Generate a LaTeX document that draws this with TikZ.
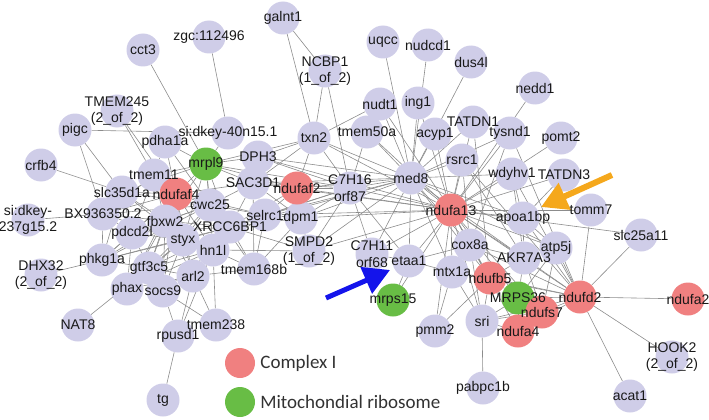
\documentclass[tikz,border=0pt]{standalone}
\usepackage{fontspec}
\setmainfont{Liberation Sans}
\newfontfamily\legendfont{Carlito}
\usetikzlibrary{arrows.meta,backgrounds,positioning}
\pgfdeclarelayer{fg}
\pgfsetlayers{background,main,fg}

\definecolor{lavfill}{RGB}{207,205,232}
\definecolor{cifill}{RGB}{240,128,128}
\definecolor{mrfill}{RGB}{104,189,69}
\definecolor{edgegray}{RGB}{140,140,140}
\definecolor{labeltext}{RGB}{25,25,25}
\definecolor{legendtext}{RGB}{50,50,50}
\definecolor{bluearrow}{RGB}{20,20,235}
\definecolor{orangearrow}{RGB}{245,168,28}

% circle first, its label on the top layer
\newcommand{\gnode}[5][gene_node]{%
  \node[#1] (#2) at (#3,#4) {};
  \begin{pgfonlayer}{fg}\node[gene_label] at (#2) {#5};\end{pgfonlayer}}

\begin{document}
\begin{tikzpicture}[x=1pt,y=-1pt,
    gene_node/.style ={circle, fill=lavfill, minimum size=33pt, inner sep=0pt},
    complex_node/.style ={gene_node, fill=cifill},
    ribo_node/.style ={gene_node, fill=mrfill},
    gene_label/.style ={font=\fontsize{14}{16.5}\selectfont, text=labeltext,
      align=center, inner sep=0pt},
    edge_line/.style ={draw=edgegray, line width=0.6pt},
    legend_dot/.style ={circle, minimum size=30pt, inner sep=0pt},
    legend_text/.style ={font=\legendfont\fontsize{19}{22}\selectfont,
      text=legendtext, inner sep=0pt},
    pointer/.style ={line width=5pt, -{Triangle[length=26pt,width=28pt]}}]
    \useasboundingbox (0,0) rectangle (709,420);

    % left cluster
    \gnode{cct3}{143}{50}{cct3}
    \gnode{zgc}{209}{37}{zgc:112496}
    \gnode{tmemA}{117}{111}{TMEM245\\(2\_of\_2)}
    \gnode{pigc}{75}{130}{pigc}
    \gnode{pdha1a}{165}{142}{pdha1a}
    \gnode{sidkeyA}{228}{133}{si:dkey-40n15.1}
    \gnode{crfb4}{41}{165}{crfb4}
    \gnode[ribo_node]{mrpl9}{206}{164}{mrpl9}
    \gnode{tmem11}{154}{175}{tmem11}
    \gnode{slc35d1a}{122}{192}{slc35d1a}
    \gnode[complex_node]{ndufaf4}{176}{194}{ndufaf4}
    \gnode{cwc25}{210}{205}{cwc25}
    \gnode{bx}{103}{214}{BX936350.2}
    \gnode{sidkeyB}{28}{220}{si:dkey-\\237g15.2}
    \gnode{fbxw2}{165}{221}{fbxw2}
    \gnode{xrcc}{230}{227}{XRCC6BP1}
    \gnode{pdcd2l}{132}{233}{pdcd2l}
    \gnode{styx}{183}{240}{styx}
    \gnode{hn1l}{213}{250}{hn1l}
    \gnode{phkg1a}{102}{260}{phkg1a}
    \gnode{dhx}{41}{275}{DHX32\\(2\_of\_2)}
    \gnode{gtf3c5}{149}{268}{gtf3c5}
    \gnode{arl2}{193}{276}{arl2}
    \gnode{phax}{127}{289}{phax}
    \gnode{socs9}{163}{291}{socs9}
    \gnode{nat8}{78}{325}{NAT8}
    \gnode{rpusd1}{178}{336}{rpusd1}
    \gnode{tmem238}{216}{325}{tmem238}
    \gnode{tg}{163}{400}{tg}
    \gnode{tmem168b}{254}{269}{tmem168b}
    \gnode{dph3}{258}{157}{DPH3}
    \gnode{sac3d1}{253}{183}{SAC3D1}
    \gnode{selrc1}{265}{215}{selrc1}
    \gnode{dpm1}{301}{218}{dpm1}
    \gnode{smpd2}{309}{251}{SMPD2\\(1\_of\_2)}
    \gnode[complex_node]{ndufaf2}{297}{188}{ndufaf2}

    % centre
    \gnode{txn2}{314}{138}{txn2}
    \gnode{galnt1}{283}{18}{galnt1}
    \gnode{ncbp1}{325}{71}{NCBP1\\(1\_of\_2)}
    \gnode{c7h16}{350}{188}{C7H16\\orf87}
    \gnode{tmem50a}{367}{132}{tmem50a}
    \gnode{nudt1}{380}{104}{nudt1}
    \gnode{uqcc}{383}{42}{uqcc}
    \gnode{ing1}{418}{103}{ing1}
    \gnode{nudcd1}{428}{45}{nudcd1}
    \gnode{dus4l}{471}{62}{dus4l}
    \gnode{acyp1}{435}{134}{acyp1}
    \gnode{tatdn1}{473}{122}{TATDN1}
    \gnode{tysnd1}{510}{133}{tysnd1}
    \gnode{nedd1}{535}{88}{nedd1}
    \gnode{rsrc1}{462}{160}{rsrc1}
    \gnode{med8}{411}{178}{med8}
    \gnode{wdyhv1}{512}{174}{wdyhv1}
    \gnode{pomt2}{561}{138}{pomt2}
    \gnode{tatdn3}{564}{175}{TATDN3}
    \gnode[complex_node]{ndufa13}{451}{210}{ndufa13}
    \gnode{c7h11}{372}{254}{C7H11\\orf68}
    \gnode{etaa1}{409}{261}{etaa1}
    \gnode[ribo_node]{mrps15}{393}{300}{mrps15}
    \gnode{pmm2}{435}{331}{pmm2}

    % right cluster
    \gnode{apoa1bp}{523}{218}{apoa1bp}
    \gnode{tomm7}{591}{210}{tomm7}
    \gnode{slc25a11}{641}{235}{slc25a11}
    \gnode{cox8a}{470}{245}{cox8a}
    \gnode{atp5j}{556}{248}{atp5j}
    \gnode{akr7a3}{524}{258}{AKR7A3}
    \gnode{mtx1a}{452}{272}{mtx1a}
    \gnode[complex_node]{ndufb5}{490}{278}{ndufb5}
    \gnode[ribo_node]{mrps36}{518}{298}{MRPS36}
    \gnode[complex_node]{ndufd2}{580}{297}{ndufd2}
    \gnode[complex_node]{ndufs7}{542}{312}{ndufs7}
    \gnode{sri}{482}{321}{sri}
    \gnode[complex_node]{ndufa4}{518}{331}{ndufa4}
    \gnode[complex_node]{ndufa2}{688}{299}{ndufa2}
    \gnode{hook2}{672}{357}{HOOK2\\(2\_of\_2)}
    \gnode{pabpc1b}{483}{388}{pabpc1b}
    \gnode{acat1}{630}{396}{acat1}

    % legend
    \node[legend_dot, fill=cifill] (leg_ci) at (240,363) {};
    \node[legend_text, right=5pt of leg_ci] (leg_ci_txt) {Complex I};
    \node[legend_dot, fill=mrfill] (leg_mr) at (240,402) {};
    \node[legend_text, right=5pt of leg_mr] (leg_mr_txt) {Mitochondial ribosome};

    % interactions
    \begin{scope}[on background layer, every path/.style=edge_line]
     \foreach \t in {med8,rsrc1,wdyhv1,tatdn1,tysnd1,nedd1,pomt2,tatdn3,apoa1bp,
       tomm7,slc25a11,cox8a,atp5j,akr7a3,mtx1a,ndufb5,mrps36,ndufd2,ndufs7,sri,
       ndufa4,etaa1,c7h11,c7h16,txn2,tmem50a,nudt1,ing1,acyp1,ndufaf2,dpm1,smpd2,
       selrc1,dph3,pmm2,mrps15,sac3d1}
       \path (ndufa13) -- (\t);
     \foreach \t in {uqcc,nudcd1,dus4l,ing1,nudt1,tmem50a,acyp1,tatdn1,rsrc1,
       wdyhv1,c7h16,txn2,dph3,sac3d1,ndufaf2,dpm1,smpd2,etaa1,c7h11,cox8a,mtx1a,
       apoa1bp,akr7a3,ndufb5,selrc1,xrcc,tysnd1,atp5j}
       \path (med8) -- (\t);
     \foreach \t in {tomm7,slc25a11,ndufa2,hook2,acat1,apoa1bp,atp5j,akr7a3,
       mrps36,ndufs7,ndufa4,ndufb5,cox8a,mtx1a,sri,wdyhv1,rsrc1,tysnd1}
       \path (ndufd2) -- (\t);
     \foreach \a/\b in {cox8a/akr7a3,cox8a/ndufb5,cox8a/mtx1a,apoa1bp/akr7a3,
       apoa1bp/atp5j,atp5j/akr7a3,atp5j/mrps36,akr7a3/ndufb5,akr7a3/mrps36,
       ndufb5/mrps36,ndufb5/sri,mrps36/sri,ndufs7/sri,ndufa4/sri,sri/mtx1a,
       sri/cox8a,mtx1a/ndufb5,mtx1a/pmm2,pmm2/ndufb5,etaa1/mtx1a,etaa1/cox8a,
       mrps15/etaa1,sri/pabpc1b,mrps36/ndufs7,mrps36/ndufa4,ndufs7/ndufa4,
       wdyhv1/apoa1bp,wdyhv1/akr7a3,tatdn1/ndufb5,tysnd1/cox8a,rsrc1/cox8a,
       rsrc1/akr7a3,tatdn3/apoa1bp,atp5j/ndufs7,akr7a3/ndufs7,c7h11/etaa1}
       \path (\a) -- (\b);
     \foreach \a/\b in {txn2/galnt1,txn2/ncbp1,txn2/nudt1,txn2/c7h16,txn2/dph3,
       txn2/sac3d1,txn2/mrpl9,ncbp1/galnt1,ncbp1/c7h16,c7h16/tmem50a,c7h16/etaa1,
       c7h16/c7h11,c7h16/ndufaf2,c7h16/sac3d1,c7h16/dph3,c7h16/selrc1,c7h16/dpm1,
       c7h16/smpd2,c7h16/xrcc,c7h16/mrpl9,sac3d1/ndufaf2,sac3d1/dpm1,
       sac3d1/selrc1,sac3d1/dph3,dph3/mrpl9,selrc1/ndufaf2,selrc1/dpm1,
       dpm1/smpd2,ndufaf2/txn2,ndufaf2/mrpl9,xrcc/dpm1,xrcc/ndufaf2,xrcc/smpd2,
       hn1l/smpd2,tmem168b/selrc1,tmem168b/sac3d1,tmem168b/dpm1}
       \path (\a) -- (\b);
     \foreach \t in {pdha1a,cct3,sidkeyA,sac3d1,cwc25,ndufaf4,tmem11,fbxw2,xrcc,
       styx,hn1l,slc35d1a}
       \path (mrpl9) -- (\t);
     \foreach \t in {tmem11,slc35d1a,cwc25,fbxw2,xrcc,styx,hn1l,pdcd2l,bx,gtf3c5,
       phkg1a,arl2,socs9,phax,sac3d1,selrc1}
       \path (ndufaf4) -- (\t);
     \foreach \t in {fbxw2,styx,xrcc,hn1l,pdcd2l,gtf3c5,phkg1a,slc35d1a,bx,
       sac3d1,selrc1,tmem168b}
       \path (cwc25) -- (\t);
     \foreach \t in {styx,pdcd2l,gtf3c5,phkg1a,phax,socs9,arl2,hn1l,xrcc,
       slc35d1a,bx,tmem11}
       \path (fbxw2) -- (\t);
     \foreach \t in {pdcd2l,gtf3c5,phkg1a,phax,socs9,arl2,hn1l,xrcc,bx,slc35d1a}
       \path (styx) -- (\t);
     \foreach \t in {hn1l,arl2,selrc1,sac3d1,tmem168b,gtf3c5,pdcd2l,phkg1a}
       \path (xrcc) -- (\t);
     \foreach \a/\b in {zgc/sidkeyA,pigc/sidkeyA,pigc/slc35d1a,pigc/bx,
       tmemA/tmem11,tmemA/ndufaf4,pdha1a/ndufaf4,pdha1a/tmem11,pdha1a/cwc25,
       crfb4/slc35d1a,hn1l/arl2,hn1l/socs9,hn1l/gtf3c5,hn1l/phax,hn1l/tmem168b,
       hn1l/tmem238,hn1l/selrc1,pdcd2l/phkg1a,pdcd2l/gtf3c5,pdcd2l/bx,
       pdcd2l/slc35d1a,pdcd2l/tmem11,pdcd2l/phax,gtf3c5/phkg1a,gtf3c5/phax,
       gtf3c5/socs9,gtf3c5/arl2,gtf3c5/nat8,arl2/socs9,arl2/tmem238,arl2/rpusd1,
       arl2/tmem168b,arl2/phax,socs9/tmem238,socs9/rpusd1,phkg1a/dhx,phkg1a/bx,
       phkg1a/slc35d1a,bx/sidkeyB,bx/slc35d1a,bx/tmem11,rpusd1/tg,rpusd1/hn1l}
       \path (\a) -- (\b);
    \end{scope}

    % pointers (above circles, below labels)
    \coordinate (blue_tail) at (326,298);
    \coordinate (blue_tip) at (390,270);
    \coordinate (orange_tail) at (612,175);
    \coordinate (orange_tip) at (541,207);
    \draw[pointer, bluearrow] (blue_tail) -- (blue_tip);
    \draw[pointer, orangearrow, line width=6pt] (orange_tail) -- (orange_tip);
  \end{tikzpicture}
\end{document}
